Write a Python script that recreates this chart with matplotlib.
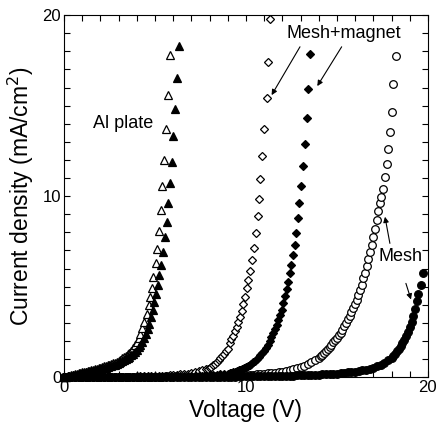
import matplotlib
matplotlib.use("Agg")
import matplotlib.pyplot as plt
from matplotlib.ticker import MultipleLocator

plt.rcParams['font.family'] = ['Liberation Sans', 'DejaVu Sans']

# Al plate, open triangles
al_open_v = [0.0,0.1,0.2,0.3,0.4,0.5,0.6,0.7,0.8,0.9,1.0,1.1,1.2,1.3,1.4,1.5,1.6,1.7,1.8,1.9,
             2.0,2.1,2.2,2.3,2.4,2.5,2.6,2.7,2.8,2.9,3.0,3.1,3.2,3.3,3.4,3.5,3.6,
             3.7,3.8,3.9,4.0,4.1,4.2,4.3,
             4.41,4.54,4.65,4.73,4.82,4.91,5.04,5.13,5.24,5.32,5.41,5.48,5.60,5.72,5.82]
al_open_j = [0.0,0.02,0.05,0.07,0.1,0.13,0.16,0.18,0.21,0.23,0.26,0.28,0.31,0.33,0.36,0.38,0.41,0.44,0.47,0.5,
             0.53,0.56,0.59,0.62,0.65,0.68,0.72,0.76,0.8,0.85,0.9,0.96,1.03,1.1,1.18,1.27,1.36,
             1.47,1.6,1.75,1.93,2.15,2.4,2.7,
             3.06,3.51,3.98,4.44,4.9,5.54,6.3,7.1,8.08,9.25,10.55,12.0,13.7,15.6,17.8]

# Al plate, filled triangles
al_fill_v = [0.0,0.1,0.2,0.3,0.4,0.5,0.6,0.7,0.8,0.9,1.0,1.1,1.2,1.3,1.4,1.5,1.6,1.7,1.8,1.9,
             2.0,2.1,2.2,2.3,2.4,2.5,2.6,2.7,2.8,2.9,3.0,3.1,3.2,3.3,3.4,3.5,3.6,
             3.7,3.8,3.9,4.0,4.1,4.2,4.3,4.4,4.5,4.6,
             4.69,4.78,4.87,4.96,5.05,5.15,5.25,5.35,5.45,5.53,5.64,5.73,5.82,5.92,6.01,6.12,6.23,6.34]
al_fill_j = [0.0,0.02,0.04,0.06,0.08,0.1,0.12,0.14,0.17,0.19,0.21,0.23,0.26,0.28,0.3,0.33,0.35,0.38,0.4,0.43,
             0.45,0.48,0.5,0.53,0.56,0.59,0.62,0.65,0.69,0.73,0.77,0.82,0.87,0.93,0.99,1.06,1.13,
             1.21,1.3,1.4,1.51,1.64,1.79,1.96,2.16,2.4,2.66,
             2.96,3.33,3.73,4.16,4.62,5.08,5.64,6.19,6.89,7.75,8.58,9.6,10.7,11.9,13.3,14.8,16.5,18.3]

# Mesh+magnet, open diamonds
mm_open_v = [0.0,0.2,0.4,0.6,0.8,1.0,1.2,1.4,1.6,1.8,2.0,2.2,2.4,2.6,2.8,3.0,3.2,3.4,3.6,3.8,
             4.0,4.2,4.4,4.6,4.8,5.0,5.2,5.4,5.6,5.8,6.0,6.2,6.4,6.6,6.8,7.0,7.2,7.4,7.6,7.8,
             7.9,8.0,8.1,8.2,8.3,8.4,8.5,8.6,8.7,8.8,8.9,9.0,
             9.1,9.2,9.3,9.4,9.49,9.58,9.67,9.76,9.85,9.95,10.04,10.13,10.22,10.31,10.44,
             10.53,10.65,10.72,10.8,10.9,11.0,11.14,11.23,11.32]
mm_open_j = [0.0,0.0,0.0,0.0,0.0,0.01,0.01,0.01,0.01,0.01,0.01,0.02,0.02,0.02,0.02,0.02,0.03,0.03,0.03,0.03,
             0.04,0.04,0.04,0.05,0.05,0.06,0.07,0.08,0.09,0.1,0.11,0.13,0.15,0.17,0.2,0.23,0.27,0.32,0.37,0.43,
             0.47,0.52,0.58,0.65,0.73,0.82,0.92,1.03,1.15,1.28,1.42,1.57,
             1.9,2.08,2.3,2.53,2.78,3.05,3.33,3.65,4.03,4.44,4.9,5.36,5.87,6.46,7.14,
             7.97,8.88,9.83,10.94,12.2,13.7,15.4,17.4,19.8]

# Mesh+magnet, filled diamonds
mm_fill_v = [0.0,0.2,0.4,0.6,0.8,1.0,1.2,1.4,1.6,1.8,2.0,2.2,2.4,2.6,2.8,3.0,3.2,3.4,3.6,3.8,
             4.0,4.2,4.4,4.6,4.8,5.0,5.2,5.4,5.6,5.8,6.0,6.2,6.4,6.6,6.8,7.0,7.2,7.4,7.6,7.8,
             8.0,8.2,8.4,8.6,8.8,9.0,
             9.1,9.2,9.3,9.4,9.5,9.6,9.7,9.8,9.9,10.0,10.1,10.2,10.3,10.4,10.5,10.6,10.7,10.8,10.9,
             11.0,11.1,11.2,11.3,11.4,11.5,11.6,
             11.69,11.78,11.87,11.96,12.05,12.14,12.23,12.31,12.40,12.48,12.57,12.67,12.75,12.84,
             12.93,13.02,13.12,13.24,13.34,13.43,13.52]
mm_fill_j = [0.0,0.0,0.0,0.0,0.0,0.0,0.0,0.0,0.0,0.0,0.0,0.0,0.0,0.0,0.0,0.0,0.0,0.0,0.01,0.01,
             0.01,0.01,0.01,0.01,0.02,0.02,0.02,0.02,0.03,0.03,0.03,0.04,0.04,0.04,0.05,0.05,0.06,0.06,0.07,0.08,
             0.1,0.11,0.13,0.15,0.17,0.2,
             0.22,0.25,0.27,0.3,0.33,0.37,0.41,0.45,0.5,0.55,0.6,0.66,0.73,0.81,0.9,1.0,1.1,1.22,1.34,
             1.47,1.62,1.8,2.0,2.2,2.42,2.66,
             2.9,3.15,3.43,3.73,4.07,4.48,4.85,5.27,5.73,6.22,6.74,7.29,7.94,8.77,
             9.63,10.57,11.66,12.87,14.3,15.9,17.85]

# Mesh, open circles
me_open_v = [0.0,0.2,0.4,0.6,0.8,1.0,1.2,1.4,1.6,1.8,2.0,2.2,2.4,2.6,2.8,3.0,3.2,3.4,3.6,3.8,
             4.0,4.2,4.4,4.6,4.8,5.0,5.2,5.4,5.6,5.8,6.0,6.2,6.4,6.6,6.8,7.0,7.2,7.4,7.6,7.8,
             8.0,8.2,8.4,8.6,8.8,9.0,9.2,9.4,9.6,9.8,10.0,10.2,10.4,10.6,10.8,11.0,11.2,11.4,11.6,11.8,
             12.0,12.2,12.4,12.6,12.8,13.0,13.2,13.4,13.6,13.8,14.0,
             14.1,14.2,14.3,14.4,14.5,14.6,14.7,14.8,14.9,15.0,15.1,15.2,15.3,15.4,15.5,15.6,15.7,15.8,15.9,16.0,
             16.09,16.18,16.27,16.36,16.45,16.54,16.63,16.72,16.82,16.9,17.0,17.09,17.18,17.27,17.36,
             17.44,17.53,17.64,17.73,17.82,17.91,18.0,18.1,18.22]
me_open_j = [0.0,0.0,0.0,0.0,0.0,0.0,0.0,0.0,0.0,0.0,0.0,0.01,0.01,0.01,0.01,0.01,0.01,0.01,0.01,0.02,
             0.02,0.02,0.02,0.02,0.03,0.03,0.03,0.03,0.04,0.04,0.04,0.04,0.05,0.05,0.05,0.05,0.06,0.06,0.06,0.07,
             0.07,0.08,0.08,0.08,0.08,0.08,0.09,0.09,0.1,0.11,0.12,0.13,0.14,0.15,0.17,0.19,0.21,0.23,0.25,0.28,
             0.31,0.35,0.39,0.44,0.49,0.55,0.62,0.71,0.81,0.93,1.05,
             1.15,1.25,1.36,1.47,1.58,1.69,1.8,1.92,2.04,2.17,2.31,2.46,2.62,2.8,2.99,3.19,3.4,3.62,3.84,4.05,
             4.27,4.52,4.8,5.08,5.45,5.76,6.13,6.5,6.92,7.29,7.75,8.2,8.67,9.19,9.6,
             9.95,10.4,11.07,11.77,12.6,13.52,14.66,16.2,17.75]

# Mesh, filled circles
me_fill_v = [0.0,0.2,0.4,0.6,0.8,1.0,1.2,1.4,1.6,1.8,2.0,2.2,2.4,2.6,2.8,3.0,3.2,3.4,3.6,3.8,
             4.0,4.2,4.4,4.6,4.8,5.0,5.2,5.4,5.6,5.8,6.0,6.2,6.4,6.6,6.8,7.0,7.2,7.4,7.6,7.8,
             8.0,8.2,8.4,8.6,8.8,9.0,9.2,9.4,9.6,9.8,10.0,10.2,10.4,10.6,10.8,11.0,11.2,11.4,11.6,11.8,
             12.0,12.2,12.4,12.6,12.8,13.0,13.2,13.4,13.6,13.8,14.0,14.2,14.4,14.6,14.8,15.0,15.2,15.4,
             15.6,15.8,16.0,16.2,16.4,16.6,16.8,17.0,17.2,17.4,17.6,17.8,18.0,
             18.1,18.2,18.3,18.4,18.5,18.6,18.7,18.8,18.9,19.0,19.1,19.2,19.29,19.38,19.47,19.6,19.74]
me_fill_j = [0.0,0.0,0.0,0.0,0.0,0.0,0.0,0.0,0.0,0.0,0.0,0.0,0.0,0.0,0.0,0.0,0.0,0.0,0.0,0.0,
             0.0,0.0,0.0,0.0,0.0,0.0,0.0,0.0,0.01,0.01,0.01,0.01,0.01,0.01,0.01,0.01,0.02,0.02,0.02,0.02,
             0.02,0.02,0.03,0.03,0.03,0.03,0.03,0.03,0.04,0.04,0.04,0.04,0.04,0.05,0.05,0.05,0.06,0.06,0.07,0.07,
             0.08,0.08,0.09,0.09,0.1,0.1,0.11,0.11,0.12,0.13,0.14,0.15,0.16,0.18,0.19,0.2,0.22,0.24,
             0.26,0.29,0.31,0.34,0.38,0.42,0.47,0.53,0.6,0.68,0.79,0.92,1.08,
             1.18,1.29,1.42,1.56,1.72,1.9,2.05,2.25,2.48,2.75,3.05,3.38,3.75,4.2,4.62,5.08,5.76]

fig = plt.figure(figsize=(4.38, 4.32), dpi=100)
ax = fig.add_axes([0.146, 0.127, 0.831, 0.838])

mew = 0.9
kw = dict(mew=mew, ls='none', clip_on=False, mec='black')
ax.plot(me_open_v, me_open_j, 'o', ms=5.5, mfc='white', **kw)
ax.plot(mm_open_v, mm_open_j, 'D', ms=4.3, mfc='white', **kw)
ax.plot(al_open_v, al_open_j, '^', ms=6, mfc='white', **kw)
ax.plot(me_fill_v, me_fill_j, 'o', ms=5.5, mfc='black', **kw)
ax.plot(mm_fill_v, mm_fill_j, 'D', ms=4.3, mfc='black', **kw)
ax.plot(al_fill_v, al_fill_j, '^', ms=6, mfc='black', **kw)

ax.set_xlim(0, 20)
ax.set_ylim(0, 20)
ax.xaxis.set_major_locator(MultipleLocator(10))
ax.xaxis.set_minor_locator(MultipleLocator(1))
ax.yaxis.set_major_locator(MultipleLocator(10))
ax.yaxis.set_minor_locator(MultipleLocator(1))
ax.tick_params(which='both', direction='in', top=True, right=True, width=0.8, labelsize=12, pad=2)
ax.tick_params(which='major', length=4.5)
ax.tick_params(which='minor', length=4)
for s in ax.spines.values():
    s.set_linewidth(0.8)

ax.set_xlabel('Voltage (V)', fontsize=16.5, labelpad=3)
ax.set_ylabel('Current density (mA/cm$^2$)', fontsize=16.5, labelpad=5)

ax.text(3.26, 14.03, 'Al plate', fontsize=13, ha='center', va='center')
ax.text(15.38, 19.0, 'Mesh+magnet', fontsize=13, ha='center', va='center')
ax.text(18.52, 6.65, 'Mesh', fontsize=13, ha='center', va='center')

ap = dict(arrowstyle='-|>', lw=0.8, color='black', mutation_scale=8, shrinkA=0, shrinkB=0)
ax.annotate('', xy=(11.41, 15.58), xytext=(12.97, 18.25), arrowprops=ap)
ax.annotate('', xy=(13.92, 16.08), xytext=(15.26, 18.25), arrowprops=ap)
ax.annotate('', xy=(17.64, 8.86), xytext=(17.91, 7.39), arrowprops=ap)
ax.annotate('', xy=(19.07, 4.29), xytext=(18.79, 5.18), arrowprops=ap)

fig.savefig('out.png', dpi=100)
